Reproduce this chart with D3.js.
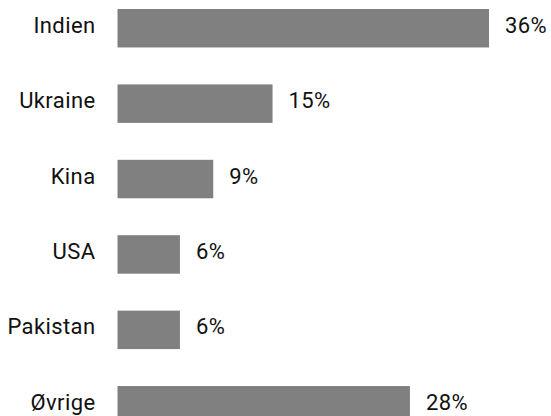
<!DOCTYPE html>
<html>
<head>
<meta charset="utf-8">
<script src="https://cdn.jsdelivr.net/npm/d3@7"></script>
<style>
  html, body { margin: 0; padding: 0; background: #fff; overflow: hidden; }
  text { font-family: Roboto, sans-serif; font-size: 22px; fill: #111; letter-spacing: 0.4px; }
</style>
</head>
<body>
<div id="chart"></div>
<script>
const countries = ['Indien', 'Ukraine', 'Kina', 'USA', 'Pakistan', 'Øvrige'];
const shares = [35.7, 14.9, 9.2, 6.0, 6.0, 28.1];

const width = 551;
const height = 416;

const svg = d3.select('#chart')
  .append('svg')
  .attr('width', width)
  .attr('height', height);

const xScale = d3.scaleLinear().domain([0, 35.7]).range([117.5, 489]);
const yScale = d3.scaleBand()
  .domain(countries)
  .range([9, 424.5])
  .paddingInner(0.49)
  .paddingOuter(0);

const rows = countries.map((c, i) => ({ label: c, value: shares[i] }));
const fmt = d3.format('.0f');

svg.selectAll('rect')
  .data(rows)
  .enter()
  .append('rect')
  .attr('x', xScale(0))
  .attr('y', (d) => yScale(d.label))
  .attr('width', (d) => xScale(d.value) - xScale(0))
  .attr('height', yScale.bandwidth())
  .attr('fill', '#808080');

// country names on the left
svg.selectAll('.name')
  .data(rows)
  .enter()
  .append('text')
  .attr('class', 'name')
  .attr('x', 95.5)
  .attr('y', (d) => yScale(d.label) + yScale.bandwidth() / 2)
  .attr('dy', '0.21em')
  .style('text-anchor', 'end')
  .text((d) => d.label);

// value labels after each bar
svg.selectAll('.value')
  .data(rows)
  .enter()
  .append('text')
  .attr('class', 'value')
  .attr('x', (d) => xScale(d.value) + 16)
  .attr('y', (d) => yScale(d.label) + yScale.bandwidth() / 2)
  .attr('dy', '0.21em')
  .text((d) => fmt(d.value) + '%');
</script>
</body>
</html>
